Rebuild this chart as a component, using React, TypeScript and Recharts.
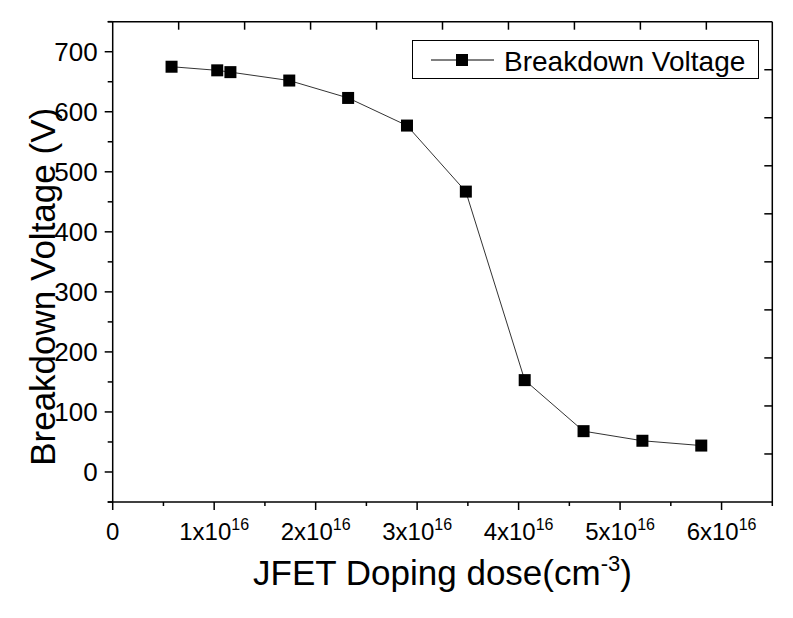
import { LineChart, Line, XAxis, YAxis, Legend, Label } from "recharts";

// JFET doping dose (cm^-3) and breakdown voltage (V)
const dose = [0.58e16, 1.03e16, 1.16e16, 1.74e16, 2.32e16, 2.9e16, 3.48e16, 4.06e16, 4.64e16, 5.22e16, 5.8e16];
const voltage = [675, 669, 666, 652, 623, 577, 467, 153, 68, 52, 44];

const xTicks = [0, 0.5e16, 1e16, 1.5e16, 2e16, 2.5e16, 3e16, 3.5e16, 4e16, 4.5e16, 5e16, 5.5e16, 6e16, 6.5e16];
const yTicks = [-50, 0, 50, 100, 150, 200, 250, 300, 350, 400, 450, 500, 550, 600, 650, 700, 750];
const topTicks = [0.65e16, 1.3e16, 1.95e16, 2.6e16, 3.25e16, 3.9e16, 4.55e16, 5.2e16, 5.85e16];
const rightTicks = [30, 110, 190, 270, 350, 430, 510, 590, 670];

const X_MAX = 6.5e16;
const Y_MIN = -50;
const Y_MAX = 750;

const W = 785;
const H = 610;
const MARGIN = { top: 13.7, right: 19.7, bottom: 56, left: 24.7 };
const Y_AXIS_W = 80;
const X_AXIS_H = 60;
const RIGHT_AXIS_W = 1;
const PLOT_W = W - MARGIN.left - MARGIN.right - Y_AXIS_W - RIGHT_AXIS_W;
const PLOT_H = H - MARGIN.top - MARGIN.bottom - X_AXIS_H;

const data = dose.map((d, i) => ({ dose: d, v: voltage[i] }));

const FONT = '"Liberation Sans", Arial, sans-serif';

// top frame (line + inward ticks), drawn from the origin tick of the bottom axis
const TopFrame = ({ x, y }: { x: number; y: number }) => (
  <g>
    <line x1={x} x2={x + PLOT_W} y1={y} y2={y} stroke="#000" strokeWidth={1.5} />
    <line x1={x} x2={x - 5} y1={y} y2={y} stroke="#000" strokeWidth={1.5} />
    {topTicks.map((t) => {
      const tx = x + (t / X_MAX) * PLOT_W;
      return <line key={t} x1={tx} x2={tx} y1={y} y2={y + 8} stroke="#000" strokeWidth={1.5} />;
    })}
  </g>
);

const BottomTick = (p: any) => {
  const { x, y, payload } = p;
  const v = payload.value / 1e16;
  const major = Math.abs(v - Math.round(v)) < 1e-6;
  return (
    <g>
      <line x1={x} x2={x} y1={y} y2={y + (major ? 8 : 4)} stroke="#000" strokeWidth={1.5} />
      {payload.value === 0 && <TopFrame x={x} y={y - PLOT_H} />}
      {payload.value === 0 && <line x1={x} x2={x - 5} y1={y} y2={y} stroke="#000" strokeWidth={1.5} />}
      {major && (
        <text x={x} y={y + 38} textAnchor="middle" fontSize={24} fontFamily={FONT} fill="#000">
          {v === 0 ? "0" : (
            <>
              {`${Math.round(v)}x10`}
              <tspan dy={-10} fontSize={16}>16</tspan>
            </>
          )}
        </text>
      )}
    </g>
  );
};

const LeftTick = (p: any) => {
  const { x, y, payload } = p;
  const major = payload.value % 100 === 0;
  return (
    <g>
      <line x1={x} x2={x - (major ? 8 : 5)} y1={y} y2={y} stroke="#000" strokeWidth={1.5} />
      {major && (
        <text x={x - 15} y={y} dy="0.36em" textAnchor="end" fontSize={26} fontFamily={FONT} fill="#000">
          {payload.value}
        </text>
      )}
    </g>
  );
};

const RightTick = (p: any) => (
  <line x1={p.x} x2={p.x - 8} y1={p.y} y2={p.y} stroke="#000" strokeWidth={1.5} />
);

const Square = (p: any) => (
  <rect key={p.index} x={p.cx - 6} y={p.cy - 6} width={12} height={12} fill="#000" />
);

const LegendBox = () => (
  <svg width={348} height={40} style={{ display: "block" }}>
    <rect x={0.5} y={0.5} width={346} height={38} fill="#fff" stroke="#000" strokeWidth={1} />
    <line x1={19} x2={82} y1={20} y2={20} stroke="#000" strokeWidth={1} />
    <rect x={44} y={14} width={12} height={12} fill="#000" />
    <text x={92} y={31} fontSize={28} fontFamily={FONT} fill="#000">Breakdown Voltage</text>
  </svg>
);

export default function App() {
  return (
    <LineChart width={W} height={H} data={data} margin={MARGIN} style={{ fontFamily: FONT }}>
      <XAxis
        xAxisId={0}
        dataKey="dose"
        type="number"
        domain={[0, X_MAX]}
        ticks={xTicks}
        interval={0}
        height={X_AXIS_H}
        tickSize={0}
        tickMargin={0}
        tickLine={false}
        tick={<BottomTick />}
        axisLine={{ stroke: "#000", strokeWidth: 1.5 }}
        allowDataOverflow
      >
        <Label
          content={(props: any) => {
            const vb = props.viewBox;
            return (
              <text x={vb.x + vb.width / 2} y={vb.y + 83} textAnchor="middle" fontSize={35} fontFamily={FONT} fill="#000">
                JFET Doping dose(cm<tspan dy={-14} fontSize={22}>-3</tspan><tspan dy={14}>)</tspan>
              </text>
            );
          }}
        />
      </XAxis>
      <YAxis
        yAxisId={0}
        type="number"
        domain={[Y_MIN, Y_MAX]}
        ticks={yTicks}
        interval={0}
        width={Y_AXIS_W}
        tickSize={0}
        tickMargin={0}
        tickLine={false}
        tick={<LeftTick />}
        axisLine={{ stroke: "#000", strokeWidth: 1.5 }}
        allowDataOverflow
      >
        <Label
          content={(props: any) => {
            const vb = props.viewBox;
            const x = vb.x + vb.width - 58;
            const y = vb.y + vb.height / 2 + 25;
            return (
              <text x={x} y={y} transform={`rotate(-90 ${x} ${y})`} textAnchor="middle" fontSize={35} fontFamily={FONT} fill="#000">
                Breakdown Voltage (V)
              </text>
            );
          }}
        />
      </YAxis>
      <YAxis
        yAxisId={2}
        orientation="right"
        type="number"
        domain={[Y_MIN, Y_MAX]}
        ticks={rightTicks}
        interval={0}
        width={RIGHT_AXIS_W}
        tickSize={0}
        tickMargin={0}
        tickLine={false}
        tick={<RightTick />}
        axisLine={{ stroke: "#000", strokeWidth: 1.5 }}
        allowDataOverflow
      />
      <Legend
        layout="vertical"
        align="center"
        verticalAlign="middle"
        content={<LegendBox />}
        wrapperStyle={{ left: 404, top: 32, width: 348, height: 40, margin: 0 }}
      />
      <Line
        xAxisId={0}
        yAxisId={0}
        dataKey="v"
        type="linear"
        stroke="#333"
        strokeWidth={1}
        dot={<Square />}
        isAnimationActive={false}
      />
    </LineChart>
  );
}
